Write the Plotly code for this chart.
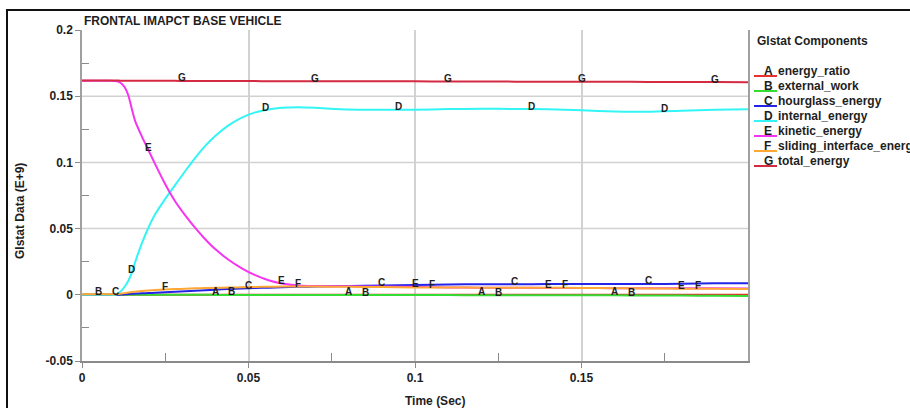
import numpy as np
import plotly.graph_objects as go

# Glstat time history (time in seconds, energies in E+9 units)
time = [0.000, 0.005, 0.008, 0.010, 0.011, 0.012, 0.013, 0.014, 0.015, 0.016,
        0.018, 0.020, 0.022, 0.025, 0.028, 0.031, 0.034, 0.037, 0.040, 0.044,
        0.048, 0.052, 0.056, 0.060, 0.065, 0.070, 0.080, 0.090, 0.100, 0.110,
        0.120, 0.130, 0.140, 0.150, 0.160, 0.170, 0.180, 0.190, 0.200]

energy_ratio = [0.0000] * 39

external_work = [0.0000, 0.0000, 0.0000, 0.0000, 0.0000, 0.0000, 0.0000, 0.0000, 0.0000, 0.0000,
                 0.0000, 0.0000, 0.0000, 0.0000, 0.0000, 0.0000, 0.0000, 0.0000, -0.0001, -0.0001,
                 -0.0001, -0.0002, -0.0002, -0.0002, -0.0002, -0.0002, -0.0002, -0.0002, -0.0002, -0.0002,
                 -0.0003, -0.0003, -0.0003, -0.0003, -0.0004, -0.0005, -0.0006, -0.0008, -0.0009]

hourglass_energy = [0.0000, 0.0000, 0.0000, 0.0000, 0.0000, 0.0002, 0.0004, 0.0006, 0.0008, 0.0009,
                    0.0011, 0.0013, 0.0015, 0.0019, 0.0023, 0.0027, 0.0031, 0.0035, 0.0039, 0.0043,
                    0.0047, 0.0051, 0.0054, 0.0057, 0.0060, 0.0062, 0.0066, 0.0070, 0.0074, 0.0078,
                    0.0080, 0.0080, 0.0081, 0.0081, 0.0081, 0.0082, 0.0083, 0.0087, 0.0088]

internal_energy = [0.0000, 0.0000, 0.0000, 0.0000, 0.0015, 0.0035, 0.0068, 0.0110, 0.0170, 0.0250,
                   0.0390, 0.0510, 0.0610, 0.0725, 0.0830, 0.0935, 0.1035, 0.1125, 0.1200, 0.1280,
                   0.1338, 0.1378, 0.1400, 0.1412, 0.1416, 0.1412, 0.1400, 0.1398, 0.1398, 0.1403,
                   0.1405, 0.1404, 0.1402, 0.1393, 0.1385, 0.1382, 0.1390, 0.1398, 0.1402]

kinetic_energy = [0.1617, 0.1617, 0.1616, 0.1614, 0.1608, 0.1592, 0.1560, 0.1500, 0.1400, 0.1310,
                  0.1195, 0.1090, 0.0985, 0.0835, 0.0705, 0.0600, 0.0505, 0.0420, 0.0345, 0.0265,
                  0.0200, 0.0148, 0.0110, 0.0085, 0.0070, 0.0066, 0.0064, 0.0062, 0.0060, 0.0056,
                  0.0054, 0.0053, 0.0052, 0.0051, 0.0050, 0.0050, 0.0049, 0.0049, 0.0048]

sliding_interface_energy = [0.0005, 0.0005, 0.0005, 0.0005, 0.0006, 0.0009, 0.0013, 0.0017, 0.0021, 0.0024,
                            0.0029, 0.0033, 0.0036, 0.0040, 0.0043, 0.0046, 0.0049, 0.0051, 0.0053, 0.0055,
                            0.0057, 0.0059, 0.0061, 0.0062, 0.0063, 0.0062, 0.0060, 0.0058, 0.0056, 0.0055,
                            0.0054, 0.0054, 0.0053, 0.0052, 0.0050, 0.0048, 0.0046, 0.0045, 0.0044]

total_energy = [0.1618, 0.1618, 0.1618, 0.1618, 0.1618, 0.1617, 0.1617, 0.1617, 0.1617, 0.1617,
                0.1617, 0.1616, 0.1616, 0.1616, 0.1616, 0.1615, 0.1615, 0.1615, 0.1614, 0.1614,
                0.1614, 0.1614, 0.1613, 0.1613, 0.1613, 0.1613, 0.1612, 0.1612, 0.1612, 0.1611,
                0.1611, 0.1610, 0.1610, 0.1609, 0.1609, 0.1608, 0.1607, 0.1607, 0.1606]

letters = ["A", "B", "C", "D", "E", "F", "G"]
names = ["energy_ratio", "external_work", "hourglass_energy", "internal_energy",
         "kinetic_energy", "sliding_interface_energy", "total_energy"]
series = [energy_ratio, external_work, hourglass_energy, internal_energy,
          kinetic_energy, sliding_interface_energy, total_energy]
colors = ["#e8312f", "#33dd33", "#2424e8", "#33f5f5", "#f535f0", "#ffa733", "#d42a42"]

x_ticks = [0, 0.05, 0.1, 0.15]
x_ticktext = ["0", "0.05", "0.1", "0.15"]
y_ticks = [-0.05, 0, 0.05, 0.1, 0.15, 0.2]
y_ticktext = ["-0.05", "0", "0.05", "0.1", "0.15", "0.2"]

FONT = "Liberation Sans, Arial, Helvetica, sans-serif"
TXT = "#1e1e1e"
GRID = "#d2d2d2"

# plot area in pixels (910 x 408 page)
L, R, T, B = 82, 748, 30, 361
W, H = 910, 408


def px(xp):
    return (xp - L) / (R - L)


def py(yp):
    return (B - yp) / (B - T)


fig = go.Figure()
for name, vals, col in zip(names, series, colors):
    fig.add_trace(go.Scatter(
        x=time, y=vals, mode="lines", name=name,
        line=dict(color=col, width=2, shape="spline", smoothing=0.6),
        hoverinfo="skip", showlegend=False,
    ))

annotations = []
shapes = []

# horizontal grid lines at the interior y ticks only (no line along the top edge)
for yv in y_ticks[1:-1]:
    shapes.append(dict(type="line", xref="paper", yref="y", x0=0, x1=1, y0=yv, y1=yv,
                       layer="below", line=dict(color=GRID, width=1.5)))

# curve identifiers: one letter every 0.04 s, staggered by series
for i, (let, vals) in enumerate(zip(letters, series)):
    t = 0.005 * i
    while t < 0.2 - 1e-9:
        if t > 1e-9:
            annotations.append(dict(
                x=t, y=float(np.interp(t, time, vals)), xref="x", yref="y",
                text=let, showarrow=False, yshift=3,
                font=dict(family=FONT, size=10, color=TXT, weight="bold"),
            ))
        t += 0.04

# chart title
annotations.append(dict(
    x=0, y=py(21), xref="paper", yref="paper", xanchor="left", yanchor="middle",
    text="FRONTAL IMAPCT BASE VEHICLE", showarrow=False,
    font=dict(family=FONT, size=12, color=TXT, weight="bold"),
))
# axis titles
annotations.append(dict(
    x=px(20), y=py(211), xref="paper", yref="paper", xanchor="center", yanchor="middle",
    text="Glstat Data (E+9)", textangle=-90, showarrow=False,
    font=dict(family=FONT, size=12, color=TXT, weight="bold"),
))
annotations.append(dict(
    x=px(435), y=py(401), xref="paper", yref="paper", xanchor="center", yanchor="middle",
    text="Time (Sec)", showarrow=False,
    font=dict(family=FONT, size=12, color=TXT, weight="bold"),
))

# legend block
annotations.append(dict(
    x=px(755), y=py(41), xref="paper", yref="paper", xanchor="left", yanchor="middle",
    text="Glstat Components", showarrow=False,
    font=dict(family=FONT, size=12, color=TXT, weight="bold"),
))
for i, (let, name, col) in enumerate(zip(letters, names, colors)):
    yc = 71 + 15 * i
    annotations.append(dict(
        x=px(762), y=py(yc), xref="paper", yref="paper", xanchor="left", yanchor="middle",
        text=let, showarrow=False,
        font=dict(family=FONT, size=12, color=TXT, weight="bold"),
    ))
    annotations.append(dict(
        x=px(776), y=py(yc), xref="paper", yref="paper", xanchor="left", yanchor="middle",
        text=name, showarrow=False,
        font=dict(family=FONT, size=12, color=TXT, weight="bold"),
    ))
    shapes.append(dict(
        type="line", xref="paper", yref="paper",
        x0=px(754), x1=px(777), y0=py(yc + 5), y1=py(yc + 5),
        line=dict(color=col, width=2),
    ))

# outer frame (left and top edges)
shapes.append(dict(type="line", xref="paper", yref="paper",
                   x0=px(7), x1=px(7), y0=py(9), y1=py(430),
                   line=dict(color="#111111", width=2)))
shapes.append(dict(type="line", xref="paper", yref="paper",
                   x0=px(6), x1=px(930), y0=py(10), y1=py(10),
                   line=dict(color="#111111", width=2)))

fig.update_layout(
    width=W, height=H,
    margin=dict(l=L, r=W - R, t=T, b=H - B, pad=0),
    paper_bgcolor="white", plot_bgcolor="white",
    annotations=annotations, shapes=shapes,
    showlegend=False,
    font=dict(family=FONT, color=TXT),
)

fig.update_xaxes(
    range=[0, 0.2], tickmode="array", tickvals=x_ticks, ticktext=x_ticktext,
    showgrid=True, gridcolor=GRID, gridwidth=1.5,
    showline=True, linecolor="#8a8a8a", linewidth=1.5, mirror=False,
    ticks="outside", ticklen=5, tickcolor="#8a8a8a", tickwidth=1,
    tickfont=dict(family=FONT, size=12, color=TXT, weight="bold"),
    zeroline=False,
    minor=dict(tickmode="array", tickvals=[0.025, 0.075, 0.125, 0.175],
               ticks="inside", ticklen=8, tickcolor="#8a8a8a", showgrid=False),
)
fig.update_yaxes(
    range=[-0.05, 0.2], tickmode="array", tickvals=y_ticks, ticktext=y_ticktext,
    showgrid=False,
    showline=True, linecolor="#a0a0a0", linewidth=1.5, mirror=True,
    ticks="outside", ticklen=5, tickcolor="#8a8a8a", tickwidth=1,
    tickfont=dict(family=FONT, size=12, color=TXT, weight="bold"),
    zeroline=False,
    minor=dict(tickmode="array", tickvals=[-0.025, 0.025, 0.075, 0.125, 0.175],
               ticks="inside", ticklen=7, tickcolor="#8a8a8a", showgrid=False),
)

fig.write_html("out.html")
